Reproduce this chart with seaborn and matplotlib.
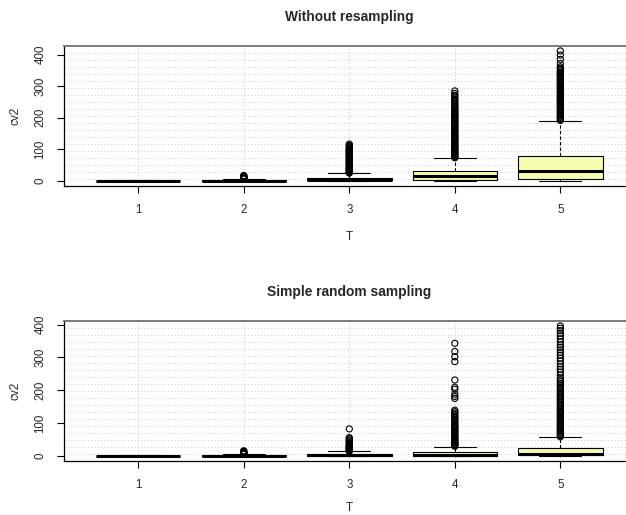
import numpy as np
import pandas as pd
import matplotlib
matplotlib.use("Agg")
import matplotlib.pyplot as plt
import seaborn as sns

T_levels = ["1", "2", "3", "4", "5"]

# ---- Without resampling: box summaries per T ----
wo_lower = [0.0, 0.0, 0.0, 0.0, 0.0]
wo_q1 = [0.05, 0.2, 1.0, 2.0, 5.3]
wo_median = [0.2, 0.8, 3.0, 13.7, 29.6]
wo_q3 = [0.5, 2.2, 10.0, 29.6, 79.0]
wo_upper = [1.2, 5.3, 23.5, 72.0, 190.0]

wo_out_T1 = []
wo_out_T2 = [6.0, 6.5, 7.1, 7.8, 8.4, 9.0, 9.7, 10.5, 11.2, 12.0, 12.9,
             13.8, 14.6, 15.5, 16.8]
wo_out_T3 = [24.5, 26.0, 27.5, 29.0, 31.0, 33.0, 35.0, 37.0, 39.0, 41.0,
             43.5, 46.0, 48.0, 50.5, 53.0, 55.0, 57.5, 60.0, 62.5, 65.0,
             67.5, 70.0, 72.0, 74.5, 77.0, 79.5, 82.0, 84.0, 86.5, 89.0,
             91.5, 94.0, 96.0, 98.5, 101.0, 103.5, 106.0, 109.0, 112.0, 116.5]
wo_out_T4 = [73.0, 75.5, 78.0, 81.0, 84.0, 86.5, 89.0, 92.0, 95.5, 98.0,
             101.0, 104.0, 107.5, 110.0, 113.0, 116.5, 120.0, 123.0, 126.0,
             129.5, 133.0, 136.0, 139.0, 142.5, 146.0, 149.0, 152.5, 156.0,
             159.0, 162.0, 165.5, 169.0, 172.0, 175.5, 179.0, 182.0, 185.5,
             189.0, 192.5, 196.0, 199.0, 202.5, 206.0, 209.5, 213.0, 217.0,
             220.5, 224.0, 228.0, 232.0, 236.0, 240.5, 245.0, 250.0, 255.0,
             260.0, 265.5, 271.0, 277.0, 285.0]
wo_out_T5 = [191.5, 195.0, 198.0, 201.5, 205.0, 208.0, 211.5, 215.0, 218.0,
             221.5, 225.0, 228.5, 232.0, 235.0, 238.5, 242.0, 245.5, 249.0,
             252.0, 255.5, 259.0, 262.5, 266.0, 269.0, 272.5, 276.0, 279.5,
             283.0, 286.0, 289.5, 293.0, 296.5, 300.0, 303.0, 306.5, 310.0,
             313.5, 317.0, 320.5, 324.0, 327.5, 331.0, 334.5, 338.0, 341.5,
             345.0, 349.0, 353.0, 357.0, 361.5, 372.0, 385.0, 399.0, 412.0]

# ---- Simple random sampling: box summaries per T ----
srs_lower = [0.0, 0.0, 0.0, 0.0, 0.0]
srs_q1 = [0.05, 0.2, 0.3, 0.8, 1.5]
srs_median = [0.2, 0.7, 1.2, 3.5, 7.0]
srs_q3 = [0.5, 2.0, 5.0, 11.0, 24.5]
srs_upper = [1.1, 4.2, 13.2, 27.4, 57.0]

srs_out_T1 = []
srs_out_T2 = [4.5, 5.2, 6.0, 6.8, 7.7, 8.5, 9.6, 10.8, 12.1, 13.5, 15.2]
srs_out_T3 = [13.8, 15.0, 16.5, 18.0, 19.5, 21.0, 23.0, 25.0, 27.0, 29.0,
              31.5, 34.0, 36.5, 39.0, 42.0, 45.0, 48.5, 52.0, 55.5, 82.0]
srs_out_T4 = [29.0, 31.5, 34.0, 36.5, 39.0, 41.5, 44.0, 47.0, 50.0, 53.0,
              56.0, 59.0, 62.0, 65.0, 68.0, 71.5, 75.0, 78.5, 82.0, 85.5,
              89.0, 92.5, 96.0, 100.0, 104.0, 108.0, 112.0, 116.5, 121.0,
              125.5, 130.0, 134.5, 139.0, 175.0, 181.0, 188.0, 203.0, 209.0,
              231.0, 287.0, 302.0, 318.0, 343.0]
srs_out_T5 = [58.0, 61.5, 65.0, 68.5, 72.0, 75.5, 79.0, 82.5, 86.0, 89.5,
              93.0, 96.5, 100.0, 104.0, 108.0, 112.0, 116.0, 120.0, 124.0,
              128.0, 132.0, 136.0, 140.0, 144.5, 149.0, 153.5, 158.0, 162.5,
              167.0, 171.5, 176.0, 180.5, 185.0, 190.0, 195.0, 200.0, 205.0,
              210.0, 215.5, 221.0, 226.5, 232.0, 237.5, 245.8, 255.0, 264.0,
              272.0, 280.2, 289.4, 297.5, 306.6, 314.8, 322.9, 331.0, 338.0,
              347.2, 356.4, 365.5, 373.6, 381.7, 389.0, 396.0]

BOX_FILL = "#F6FCAE"

sns.set_style("ticks")
plt.rcParams["font.family"] = ["Liberation Sans", "DejaVu Sans"]

W, H = 626, 515
fig = plt.figure(figsize=(W / 100, H / 100), dpi=100)


def px_axes(left, top, right, bottom):
    return fig.add_axes([left / W, 1 - bottom / H, (right - left) / W, (bottom - top) / H])


def draw_panel(ax, title, lower, q1, med, q3, upper, outliers, xlabel_offset):
    # each T gets its five summary values, so quartiles and whisker ends land exactly
    rows = []
    for i, t in enumerate(T_levels):
        for v in (lower[i], q1[i], med[i], q3[i], upper[i]):
            rows.append({"T": t, "cv2": v})
    box_df = pd.DataFrame(rows)

    out_rows = [{"T": t, "cv2": v} for t, vals in zip(T_levels, outliers) for v in vals]
    out_df = pd.DataFrame(out_rows)

    all_vals = list(lower) + list(upper) + [v for vals in outliers for v in vals]
    lo, hi = min(all_vals), max(all_vals)
    r = hi - lo
    ylim = (lo - 0.04 * r, hi + 0.04 * r)

    # dotted background grid: verticals at each T, 20 equal horizontal bands
    for ygrid in np.linspace(ylim[0], ylim[1], 21)[1:-1]:
        ax.axhline(ygrid, color="#D3D3D3", lw=0.8, ls=(0, (1, 2)), zorder=0)
    for xi in range(len(T_levels)):
        ax.axvline(xi, color="#D3D3D3", lw=0.8, ls=(0, (1, 2)), zorder=0)

    sns.boxplot(data=box_df, x="T", y="cv2", order=T_levels, color=BOX_FILL,
                saturation=1, width=0.8, whis=(0, 100), showfliers=False,
                linecolor="black", linewidth=0.8,
                medianprops=dict(color="black", linewidth=2.2),
                whiskerprops=dict(color="black", linestyle=(0, (3, 2)), linewidth=0.8),
                capprops=dict(color="black", linewidth=0.8),
                ax=ax, zorder=2)

    n_before = len(ax.collections)
    sns.stripplot(data=out_df, x="T", y="cv2", order=T_levels, jitter=False,
                  size=4.4, color="black", linewidth=0.8, edgecolor="black",
                  marker="o", ax=ax, zorder=3)
    for coll in ax.collections[n_before:]:
        coll.set_facecolor("none")
        coll.set_edgecolor("black")
        coll.set_linewidth(0.8)

    ax.set_xlim(-0.7, len(T_levels) - 0.3)
    ax.set_ylim(*ylim)
    ax.set_yticks([0, 100, 200, 300, 400])
    ax.set_yticklabels(["0", "100", "200", "300", "400"], rotation=90, va="center")
    ax.tick_params(axis="both", direction="out", length=5, width=0.8,
                   pad=8, labelsize=8.3, color="black")

    ax.set_xlabel("T", fontsize=8.5)
    ax.set_ylabel("cv2", fontsize=8.5)
    ax.xaxis.label.set_va("center")
    ax.yaxis.label.set_va("center")
    hpx = ax.get_position().height * H
    wpx = ax.get_position().width * W
    ax.xaxis.set_label_coords(0.5, -xlabel_offset / hpx)
    ax.yaxis.set_label_coords(-48.4 / wpx, 0.5)

    ax.set_title(title, fontsize=9.9, fontweight="bold", pad=18)

    for side in ("left", "bottom"):
        ax.spines[side].set_color("black")
        ax.spines[side].set_linewidth(0.9)
    ax.spines["top"].set_color("#707070")
    ax.spines["top"].set_linewidth(1.3)
    ax.spines["right"].set_color("#707070")
    ax.spines["right"].set_linewidth(1.3)
    ax.grid(False)


ax_top = px_axes(64.4, 45.7, 634.2, 186.0)
ax_bot = px_axes(64.4, 320.7, 634.2, 461.0)

draw_panel(ax_top, "Without resampling", wo_lower, wo_q1, wo_median, wo_q3, wo_upper,
           [wo_out_T1, wo_out_T2, wo_out_T3, wo_out_T4, wo_out_T5], 50.7)
draw_panel(ax_bot, "Simple random sampling", srs_lower, srs_q1, srs_median, srs_q3, srs_upper,
           [srs_out_T1, srs_out_T2, srs_out_T3, srs_out_T4, srs_out_T5], 47.0)

fig.savefig("out.png", dpi=100, facecolor="white")
